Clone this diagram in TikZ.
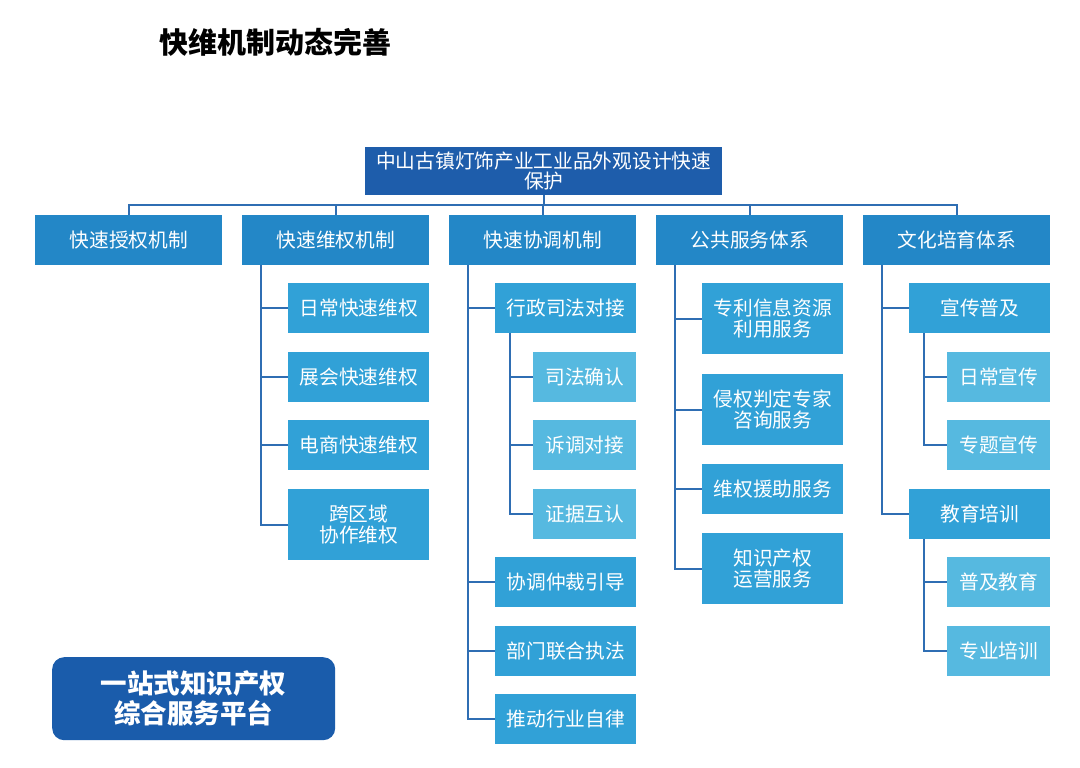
\documentclass[tikz,border=0pt]{standalone}
\usepackage{fontspec}
\setmainfont{Noto Sans CJK SC}
\usetikzlibrary{calc}
\definecolor{cRoot}{HTML}{1E5DAB}
\definecolor{cL1}{HTML}{2387C7}
\definecolor{cL2}{HTML}{31A1D7}
\definecolor{cL3}{HTML}{56B9E0}
\definecolor{cLine}{HTML}{2F6EB3}
\definecolor{cPlat}{HTML}{1A5CAB}
\tikzset{
  base/.style={draw=none, text=white, inner sep=0pt, align=center,
    font=\fontsize{19.7}{21}\selectfont, anchor=north west},
  rootbox/.style={base, fill=cRoot, minimum width=357pt, minimum height=48pt},
  lone/.style={base, fill=cL1, minimum width=187pt, minimum height=50pt},
  ltwo/.style={base, fill=cL2, minimum width=141pt, minimum height=50pt},
  ltwotall/.style={ltwo, minimum height=71pt},
  lthree/.style={base, fill=cL3, minimum width=103pt, minimum height=50pt},
  conn/.style={draw=cLine, line width=2pt},
}
\begin{document}
\begin{tikzpicture}[x=1pt,y=-1pt]
\useasboundingbox[fill=white] (0,0) rectangle (1080,768);
% title
\node[font=\fontsize{29}{31}\selectfont\bfseries, anchor=west] (title) at (156,42) {快维机制动态完善};
% root
\node[rootbox] (root) at (365,147) {中山古镇灯饰产业工业品外观设计快速\\[-1pt]保护};
% level 1
\node[lone] (k1) at (35,215) {快速授权机制};
\node[lone] (k2) at (242,215) {快速维权机制};
\node[lone] (k3) at (449,215) {快速协调机制};
\node[lone] (k4) at (656,215) {公共服务体系};
\node[lone] (k5) at (863,215) {文化培育体系};
\coordinate (bus) at (543.5,205);
\foreach \k in {k1,k2,k3,k4,k5}{
  \draw[conn] (root.south) -- (root.south |- bus) -| (\k.north);
}
% column 2
\node[ltwo] (c21) at (288,283) {日常快速维权};
\node[ltwo] (c22) at (288,352) {展会快速维权};
\node[ltwo] (c23) at (288,420) {电商快速维权};
\node[ltwotall] (c24) at (288,489) {跨区域\\协作维权};
\coordinate (v2) at ($(k2.south west)+(19,0)$);
\foreach \c in {c21,c22,c23,c24}{\draw[conn] (v2) |- (\c.west);}
% column 3
\node[ltwo] (c31) at (495,283) {行政司法对接};
\node[lthree] (c311) at (533,352) {司法确认};
\node[lthree] (c312) at (533,420) {诉调对接};
\node[lthree] (c313) at (533,489) {证据互认};
\node[ltwo] (c32) at (495,557) {协调仲裁引导};
\node[ltwo] (c33) at (495,626) {部门联合执法};
\node[ltwo] (c34) at (495,694) {推动行业自律};
\coordinate (v3) at ($(k3.south west)+(19,0)$);
\foreach \c in {c31,c32,c33,c34}{\draw[conn] (v3) |- (\c.west);}
\coordinate (v31) at ($(c31.south west)+(15,0)$);
\foreach \c in {c311,c312,c313}{\draw[conn] (v31) |- (\c.west);}
% column 4
\node[ltwotall] (c41) at (702,283) {专利信息资源\\利用服务};
\node[ltwotall] (c42) at (702,374) {侵权判定专家\\咨询服务};
\node[ltwo] (c43) at (702,464) {维权援助服务};
\node[ltwotall] (c44) at (702,533) {知识产权\\运营服务};
\coordinate (v4) at ($(k4.south west)+(19,0)$);
\foreach \c in {c41,c42,c43,c44}{\draw[conn] (v4) |- (\c.west);}
% column 5
\node[ltwo] (c51) at (909,283) {宣传普及};
\node[lthree] (c511) at (947,352) {日常宣传};
\node[lthree] (c512) at (947,420) {专题宣传};
\node[ltwo] (c52) at (909,489) {教育培训};
\node[lthree] (c521) at (947,557) {普及教育};
\node[lthree] (c522) at (947,626) {专业培训};
\coordinate (v5) at ($(k5.south west)+(19,0)$);
\foreach \c in {c51,c52}{\draw[conn] (v5) |- (\c.west);}
\coordinate (v51) at ($(c51.south west)+(15,0)$);
\foreach \c in {c511,c512}{\draw[conn] (v51) |- (\c.west);}
\coordinate (v52) at ($(c52.south west)+(15,0)$);
\foreach \c in {c521,c522}{\draw[conn] (v52) |- (\c.west);}
% platform
\node[fill=cPlat, text=white, rounded corners=12pt, minimum width=283pt, minimum height=83pt,
  inner sep=0pt, align=center, anchor=north west,
  font=\fontsize{26.5}{30}\selectfont\bfseries] (plat) at (52,657) {一站式知识产权\\综合服务平台};
\end{tikzpicture}
\end{document}
